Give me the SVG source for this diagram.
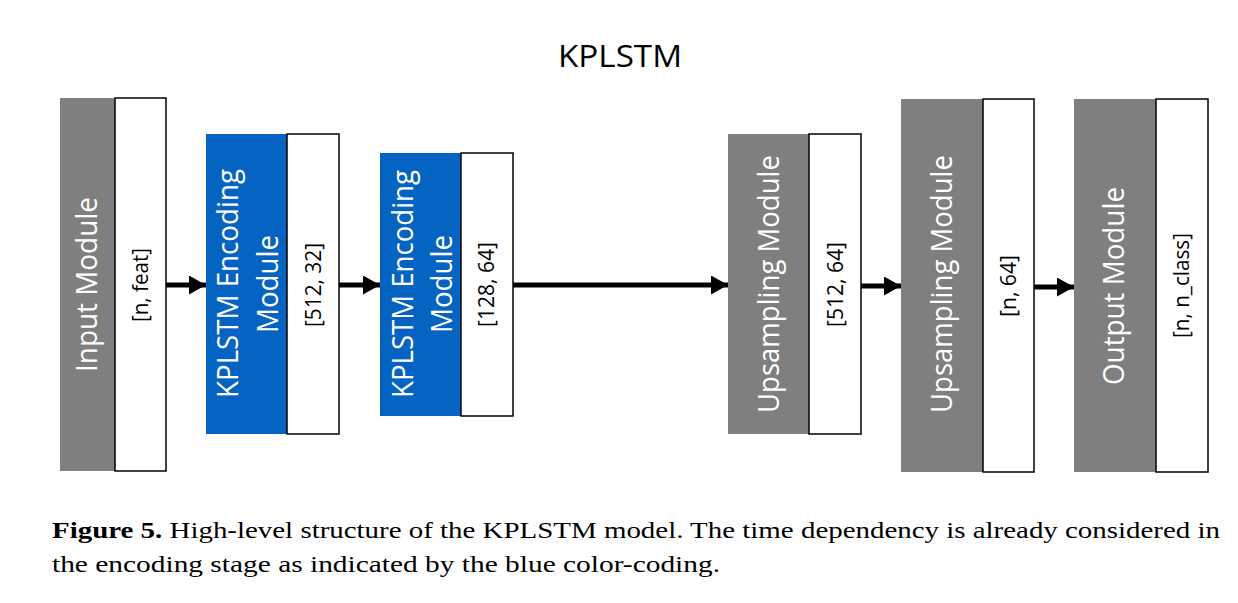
<svg xmlns="http://www.w3.org/2000/svg" width="1238" height="603" viewBox="0 0 1238 603">
<style>
.gray{fill:#7f7f7f}
.blue{fill:#0563c1}
.box{fill:#ffffff;stroke:#000000;stroke-width:1.5}
.lbl{font-family:"Open Sans","Noto Sans",sans-serif;font-size:30px;fill:#ffffff;text-anchor:middle}
.dim{font-family:"Open Sans","Noto Sans",sans-serif;font-size:21px;fill:#000000;text-anchor:middle}
.title{font-family:"Open Sans","Noto Sans",sans-serif;font-size:31px;fill:#000000;text-anchor:middle}
.cap{font-family:"Liberation Serif","DejaVu Serif",serif;font-size:24px;fill:#000000}
.conn{stroke:#000000;stroke-width:5;fill:none;marker-end:url(#ah)}
</style>
<defs>
<marker id="ah" markerUnits="userSpaceOnUse" markerWidth="17" markerHeight="19" refX="17" refY="9.5" orient="auto">
<path d="M0,0 L17,9.5 L0,19 z" fill="#000000"/>
</marker>
</defs>
<rect width="1238" height="603" fill="#ffffff"/>
<text class="title" x="620" y="67" textLength="124" lengthAdjust="spacingAndGlyphs">KPLSTM</text>

<g id="input">
<rect class="gray" x="60" y="98" width="55" height="373"/>
<rect class="box" x="115" y="98" width="51" height="373"/>
<text class="lbl" transform="translate(97,284.5) rotate(-90)" textLength="175" lengthAdjust="spacingAndGlyphs">Input Module</text>
<text class="dim" transform="translate(148,285) rotate(-90)" textLength="74" lengthAdjust="spacingAndGlyphs">[n, feat]</text>
</g>

<g id="enc1">
<rect class="blue" x="206" y="134" width="81" height="300"/>
<rect class="box" x="287" y="134" width="52" height="300"/>
<text class="lbl" transform="translate(238,283.5) rotate(-90)" textLength="229" lengthAdjust="spacingAndGlyphs">KPLSTM Encoding</text>
<text class="lbl" transform="translate(278,284) rotate(-90)" textLength="98" lengthAdjust="spacingAndGlyphs">Module</text>
<text class="dim" transform="translate(321,285) rotate(-90)" textLength="84" lengthAdjust="spacingAndGlyphs">[512, 32]</text>
</g>

<g id="enc2">
<rect class="blue" x="380" y="153" width="81" height="263"/>
<rect class="box" x="461" y="153" width="52" height="263"/>
<text class="lbl" transform="translate(413,284) rotate(-90)" textLength="228" lengthAdjust="spacingAndGlyphs">KPLSTM Encoding</text>
<text class="lbl" transform="translate(452,284) rotate(-90)" textLength="98" lengthAdjust="spacingAndGlyphs">Module</text>
<text class="dim" transform="translate(494,284.5) rotate(-90)" textLength="85" lengthAdjust="spacingAndGlyphs">[128, 64]</text>
</g>

<g id="up1">
<rect class="gray" x="728" y="134" width="81" height="300"/>
<rect class="box" x="809" y="134" width="52" height="300"/>
<text class="lbl" transform="translate(779,284) rotate(-90)" textLength="258" lengthAdjust="spacingAndGlyphs">Upsampling Module</text>
<text class="dim" transform="translate(843,284.5) rotate(-90)" textLength="85" lengthAdjust="spacingAndGlyphs">[512, 64]</text>
</g>

<g id="up2">
<rect class="gray" x="901" y="99" width="82" height="373"/>
<rect class="box" x="983" y="99" width="51" height="373"/>
<text class="lbl" transform="translate(952,284) rotate(-90)" textLength="258" lengthAdjust="spacingAndGlyphs">Upsampling Module</text>
<text class="dim" transform="translate(1016,286) rotate(-90)" textLength="62" lengthAdjust="spacingAndGlyphs">[n, 64]</text>
</g>

<g id="output">
<rect class="gray" x="1074" y="99" width="82" height="373"/>
<rect class="box" x="1156" y="99" width="52" height="373"/>
<text class="lbl" transform="translate(1124,286) rotate(-90)" textLength="198" lengthAdjust="spacingAndGlyphs">Output Module</text>
<text class="dim" transform="translate(1189,285.5) rotate(-90)" textLength="105" lengthAdjust="spacingAndGlyphs">[n, n_class]</text>
</g>

<g id="connectors">
<line class="conn" x1="166" y1="285" x2="206" y2="285"/>
<line class="conn" x1="339" y1="285" x2="380" y2="285"/>
<line class="conn" x1="513" y1="285" x2="728" y2="285"/>
<line class="conn" x1="861" y1="286" x2="901" y2="286"/>
<line class="conn" x1="1034" y1="287" x2="1074" y2="287"/>
</g>

<g id="caption">
<text class="cap" x="52" y="538" textLength="1168" lengthAdjust="spacingAndGlyphs"><tspan font-weight="bold">Figure 5.</tspan> High-level structure of the KPLSTM model. The time dependency is already considered in</text>
<text class="cap" x="52" y="572" textLength="668" lengthAdjust="spacingAndGlyphs">the encoding stage as indicated by the blue color-coding.</text>
</g>
</svg>
